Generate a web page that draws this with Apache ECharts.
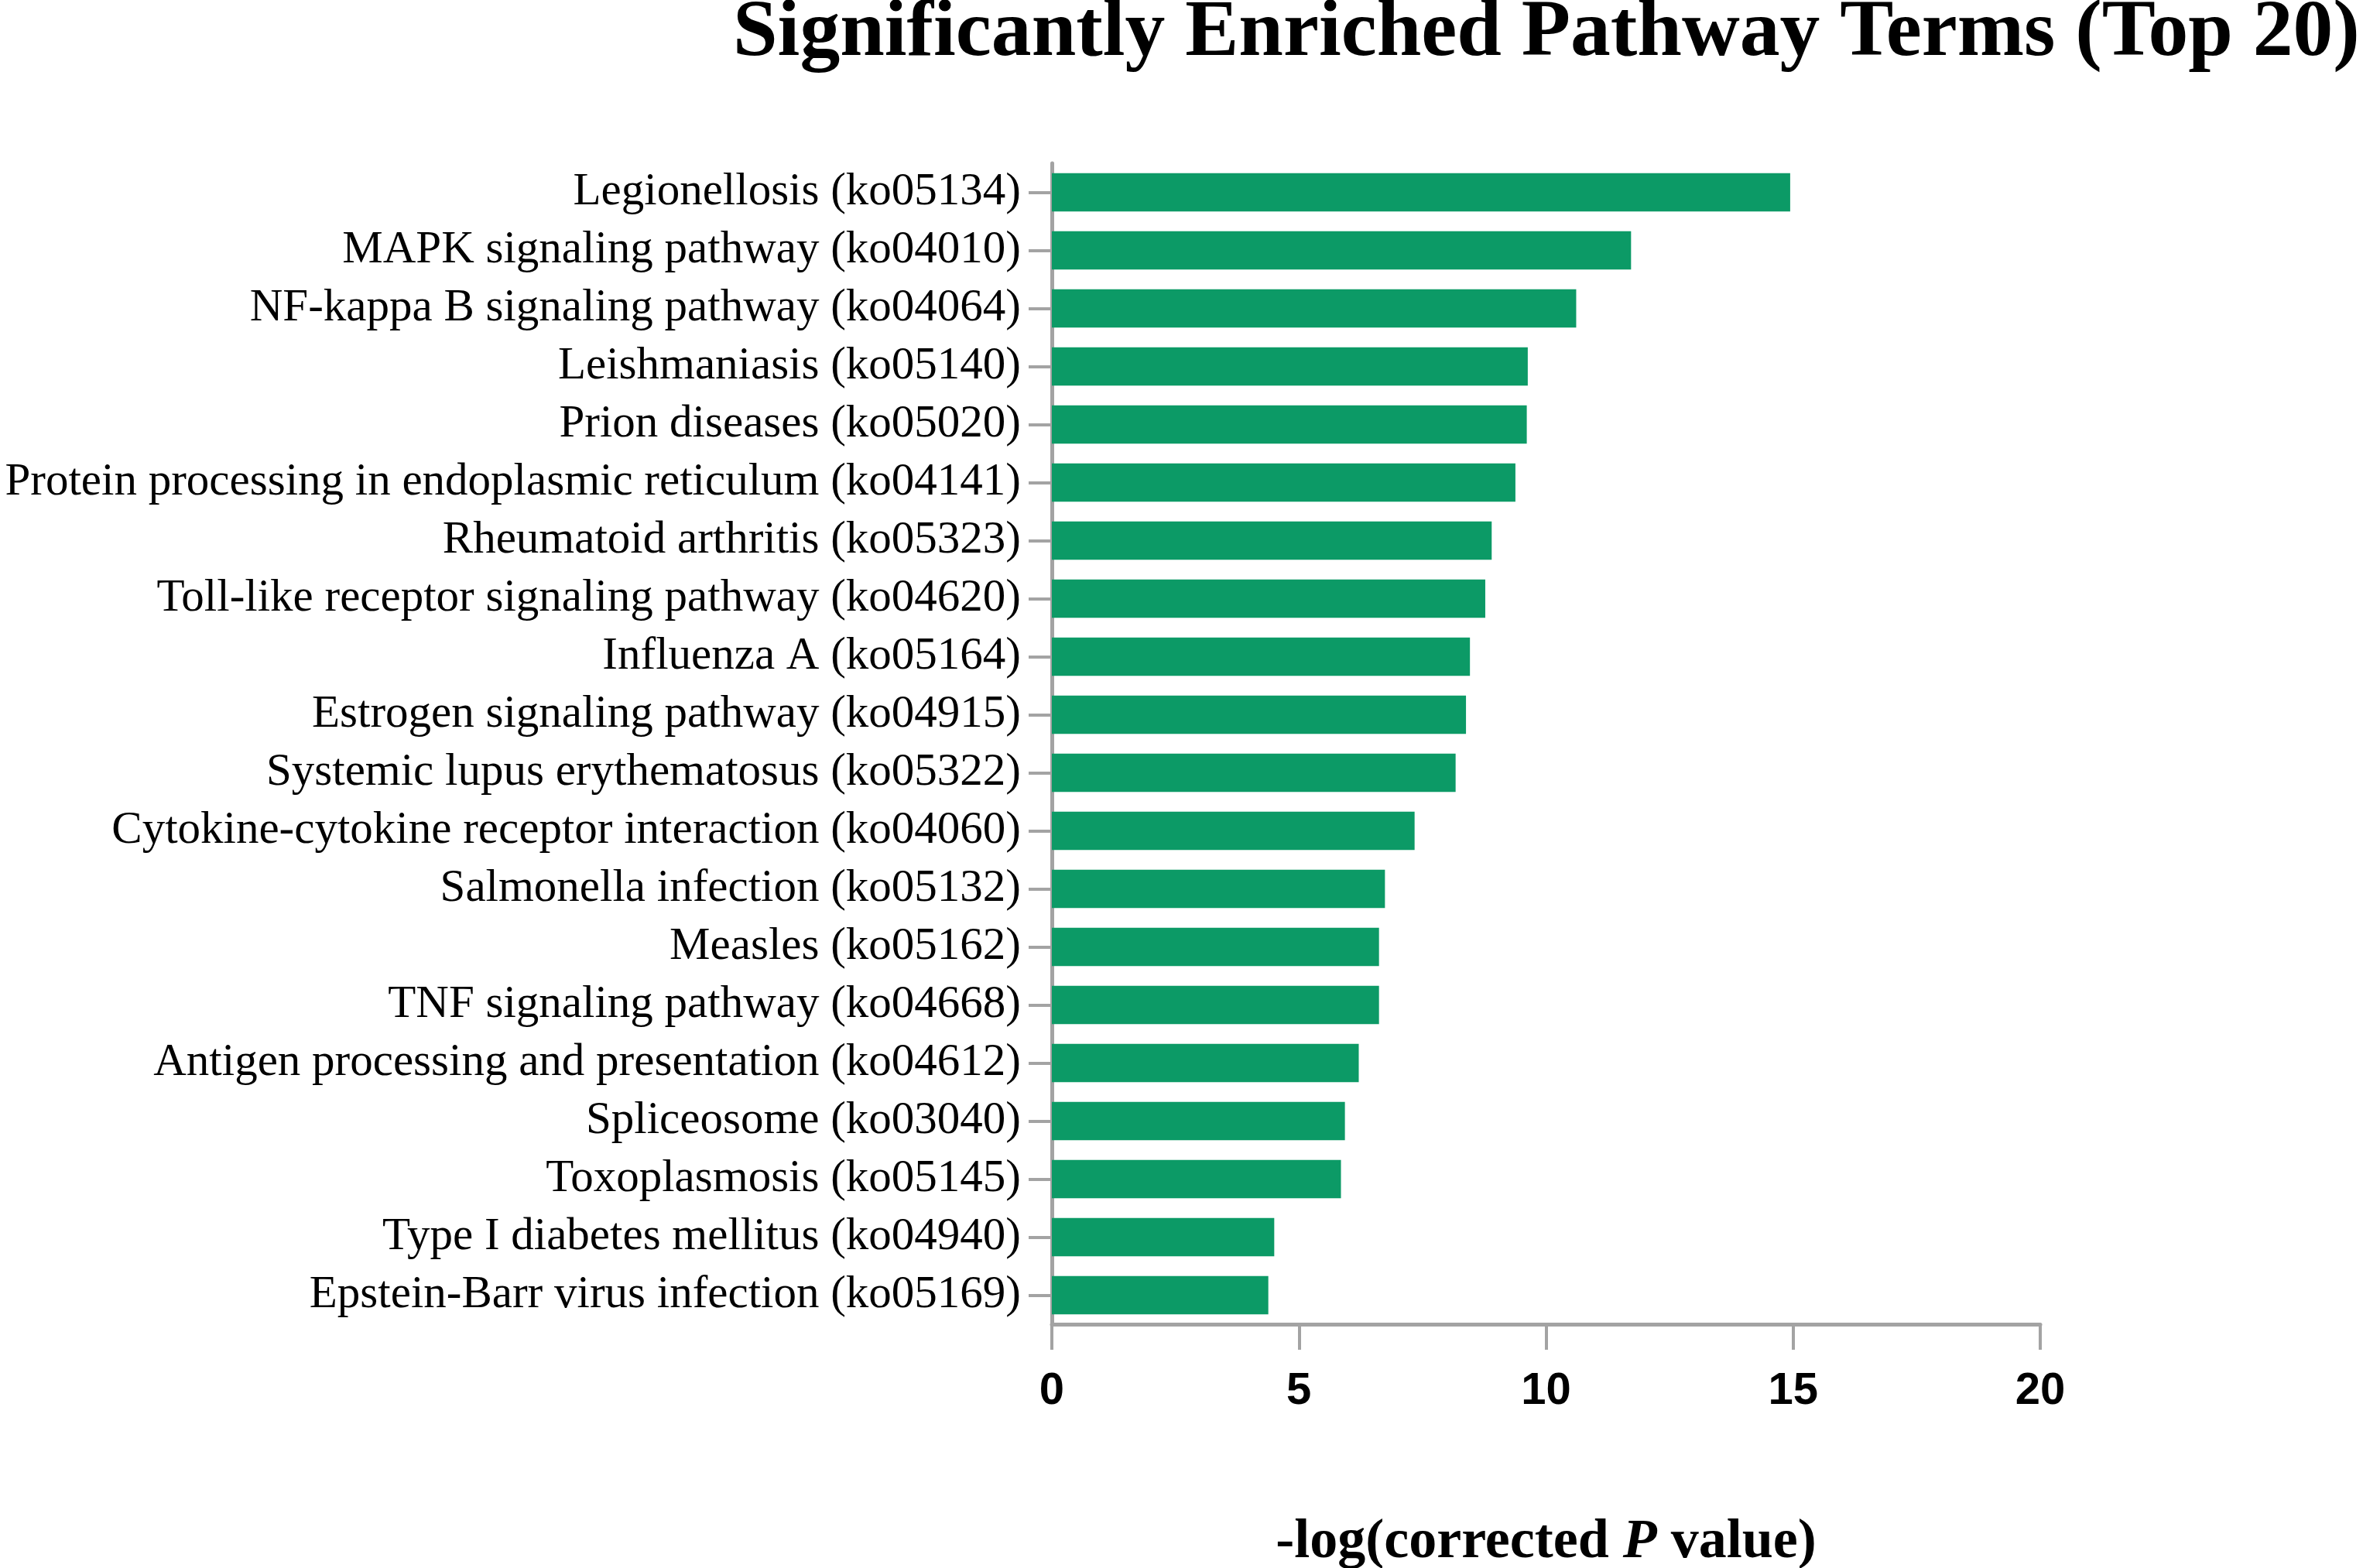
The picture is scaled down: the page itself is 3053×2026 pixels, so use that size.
<!DOCTYPE html>
<html>
<head>
<meta charset="utf-8">
<script src="https://cdn.jsdelivr.net/npm/echarts@6/dist/echarts.min.js"></script>
<style>
  html, body { margin: 0; padding: 0; background: #fff; }
  #chart { width: 3053px; height: 2026px; }
</style>
</head>
<body>
<div id="chart"></div>
<script>
var pathways = [
    'Legionellosis (ko05134)',
    'MAPK signaling pathway (ko04010)',
    'NF-kappa B signaling pathway (ko04064)',
    'Leishmaniasis (ko05140)',
    'Prion diseases (ko05020)',
    'Protein processing in endoplasmic reticulum (ko04141)',
    'Rheumatoid arthritis (ko05323)',
    'Toll-like receptor signaling pathway (ko04620)',
    'Influenza A (ko05164)',
    'Estrogen signaling pathway (ko04915)',
    'Systemic lupus erythematosus (ko05322)',
    'Cytokine-cytokine receptor interaction (ko04060)',
    'Salmonella infection (ko05132)',
    'Measles (ko05162)',
    'TNF signaling pathway (ko04668)',
    'Antigen processing and presentation (ko04612)',
    'Spliceosome (ko03040)',
    'Toxoplasmosis (ko05145)',
    'Type I diabetes mellitus (ko04940)',
    'Epstein-Barr virus infection (ko05169)'
];
var negLogP = [14.94, 11.72, 10.61, 9.63, 9.61, 9.38, 8.90, 8.77, 8.46, 8.38,
               8.17, 7.34, 6.74, 6.62, 6.62, 6.21, 5.93, 5.85, 4.50, 4.38];

var myChart = echarts.init(document.getElementById('chart'));
var axisGrey = '#a3a3a3';

var option = {
    animation: false,
    backgroundColor: '#ffffff',
    title: {
        text: 'Significantly Enriched Pathway Terms (Top 20)',
        left: 942,
        top: -13,
        textStyle: {
            fontFamily: 'Liberation Serif',
            fontWeight: 'bold',
            fontSize: 103.6,
            color: '#000'
        }
    },
    grid: {
        left: 1359,
        right: 417,
        top: 211,
        bottom: 315,
        containLabel: false,
        outerBoundsMode: 'none'
    },
    xAxis: {
        type: 'value',
        min: 0,
        max: 20,
        interval: 5,
        name: '-log(corrected {i|P} value)',
        nameLocation: 'middle',
        nameGap: 246,
        nameTextStyle: {
            fontFamily: 'Liberation Serif',
            fontWeight: 'bold',
            fontSize: 72,
            color: '#000',
            rich: {
                i: {
                    fontFamily: 'Liberation Serif',
                    fontWeight: 'bold',
                    fontStyle: 'italic',
                    fontSize: 72,
                    color: '#000'
                }
            }
        },
        axisLine: { show: true, lineStyle: { color: axisGrey, width: 5 } },
        axisTick: { show: true, length: 33, lineStyle: { color: axisGrey, width: 4 } },
        axisLabel: {
            margin: 58,
            fontFamily: 'Liberation Sans',
            fontWeight: 'bold',
            fontSize: 58,
            color: '#000'
        },
        splitLine: { show: false }
    },
    yAxis: {
        type: 'category',
        inverse: true,
        data: pathways,
        axisLine: { show: true, lineStyle: { color: axisGrey, width: 5 } },
        axisTick: { show: true, alignWithLabel: true, length: 30, lineStyle: { color: axisGrey, width: 4 } },
        axisLabel: {
            interval: 0,
            margin: 40,
            fontFamily: 'Liberation Serif',
            fontSize: 59,
            color: '#000'
        }
    },
    series: [
        {
            type: 'bar',
            data: negLogP,
            barCategoryGap: '34%',
            itemStyle: { color: '#0c9a66' }
        }
    ]
};

myChart.setOption(option);
</script>
</body>
</html>
